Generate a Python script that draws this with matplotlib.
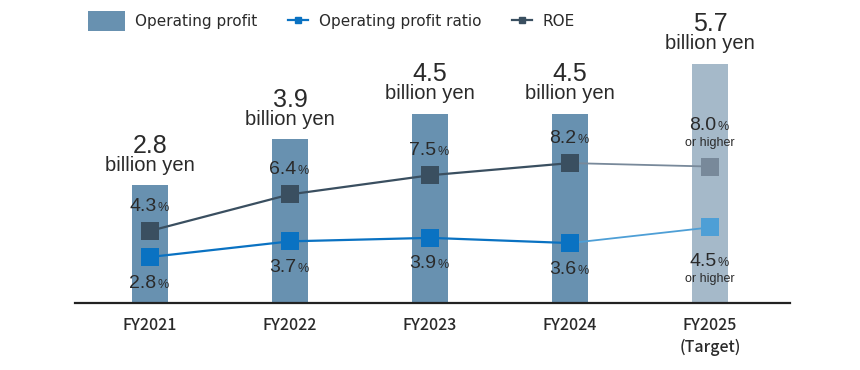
import matplotlib
matplotlib.use('Agg')
import matplotlib.pyplot as plt
from matplotlib.patches import Patch, Rectangle
from matplotlib.lines import Line2D
from matplotlib.legend_handler import HandlerPatch

# data
years = ['FY2021', 'FY2022', 'FY2023', 'FY2024', 'FY2025\n(Target)']
op_profit = [2.8, 3.9, 4.5, 4.5, 5.7]          # billion yen
op_ratio = [2.8, 3.7, 3.9, 3.6, 4.5]           # %
roe = [4.3, 6.4, 7.5, 8.2, 8.0]                # %
ratio_labels = ['2.8', '3.7', '3.9', '3.6', '4.5']
roe_labels = ['4.3', '6.4', '7.5', '8.2', '8.0']

bar_color = '#6891b0'
target_bar_color = '#a5b9c9'
ratio_color = '#0a72c2'
ratio_target_color = '#4e9fd6'
roe_color = '#3a4f60'
roe_target_color = '#78899a'
text_color = '#2a2a2a'

num_font = 'Liberation Sans'

fig = plt.figure(figsize=(8.6, 3.7), dpi=100)
ax = fig.add_axes([75 / 860, 67 / 370, 715 / 860, 273 / 370])
x = list(range(len(years)))

colors = [bar_color] * 4 + [target_bar_color]
ax.bar(x, op_profit, width=0.26, color=colors, zorder=1)
ax.set_xlim(-0.536, 4.57)
ax.set_ylim(0, 6.5)

for s in ['top', 'right', 'left']:
    ax.spines[s].set_visible(False)
ax.spines['bottom'].set_color('#222222')
ax.spines['bottom'].set_linewidth(1.6)
ax.set_yticks([])
ax.set_xticks(x)
ax.set_xticklabels(years, fontsize=11.5, family='Noto Sans CJK JP', fontweight='medium',
                   color=text_color, linespacing=1.4)
ax.tick_params(axis='x', length=0, pad=10)

# bar labels
for i, v in enumerate(op_profit):
    ax.annotate(f'{v:.1f}', (i, v), xytext=(0, 23.5), textcoords='offset points',
                ha='center', va='baseline', fontsize=18, family=num_font, color=text_color)
    ax.annotate('billion yen', (i, v), xytext=(0, 10.5), textcoords='offset points',
                ha='center', va='baseline', fontsize=14.5, family=num_font, color=text_color)

# lines on secondary axis
ax2 = ax.twinx()
ax2.set_ylim(0.155, 15.85)
ax2.axis('off')

ax2.plot(x[:4], op_ratio[:4], color=ratio_color, lw=1.6, zorder=2)
ax2.plot(x[3:], op_ratio[3:], color=ratio_target_color, lw=1.3, zorder=2)
ax2.plot(x[:4], roe[:4], color=roe_color, lw=1.6, zorder=2)
ax2.plot(x[3:], roe[3:], color=roe_target_color, lw=1.3, zorder=2)
ax2.scatter(x[:4], op_ratio[:4], marker='s', s=160, color=ratio_color, zorder=3, linewidths=0)
ax2.scatter(x[4:], op_ratio[4:], marker='s', s=160, color=ratio_target_color, zorder=3, linewidths=0)
ax2.scatter(x[:4], roe[:4], marker='s', s=160, color=roe_color, zorder=3, linewidths=0)
ax2.scatter(x[4:], roe[4:], marker='s', s=160, color=roe_target_color, zorder=3, linewidths=0)


def pct_label(xi, yi, txt, dy):
    ax2.annotate(txt, (xi, yi), xytext=(4.5, dy), textcoords='offset points',
                 ha='right', va='baseline', fontsize=14, family=num_font, color=text_color)
    ax2.annotate('%', (xi, yi), xytext=(5, dy), textcoords='offset points',
                 ha='left', va='baseline', fontsize=9, family=num_font, color=text_color)


for i in range(4):
    pct_label(i, roe[i], roe_labels[i], 14.5)
    pct_label(i, op_ratio[i], ratio_labels[i], -22)

# target labels
pct_label(4, roe[4], roe_labels[4], 26)
ax2.annotate('or higher', (4, roe[4]), xytext=(0, 14.5), textcoords='offset points',
             ha='center', va='baseline', fontsize=9, family=num_font, color=text_color)
pct_label(4, op_ratio[4], ratio_labels[4], -28)
ax2.annotate('or higher', (4, op_ratio[4]), xytext=(0, -39.5), textcoords='offset points',
             ha='center', va='baseline', fontsize=9, family=num_font, color=text_color)


# legend: wide patch box, short line handles
def wide_patch(legend, orig_handle, xdescent, ydescent, width, height, fontsize):
    return Rectangle((-xdescent - 12, -ydescent + height / 2 - 7.2), width + 12, 14.4)


handles = [
    Patch(facecolor=bar_color, edgecolor='none', label='Operating profit'),
    Line2D([0], [0], color=ratio_color, lw=1.6, marker='s', markersize=4, label='Operating profit ratio'),
    Line2D([0], [0], color=roe_color, lw=1.6, marker='s', markersize=4, label='ROE'),
]
fig.legend(handles=handles, loc='upper left', bbox_to_anchor=(91 / 860, 1.0), ncol=3,
           frameon=False, fontsize=11, handlelength=1.3, handleheight=1.0,
           columnspacing=2.0, handletextpad=0.7, labelcolor=text_color,
           handler_map={Patch: HandlerPatch(patch_func=wide_patch)})

fig.savefig('out.png', dpi=100)
